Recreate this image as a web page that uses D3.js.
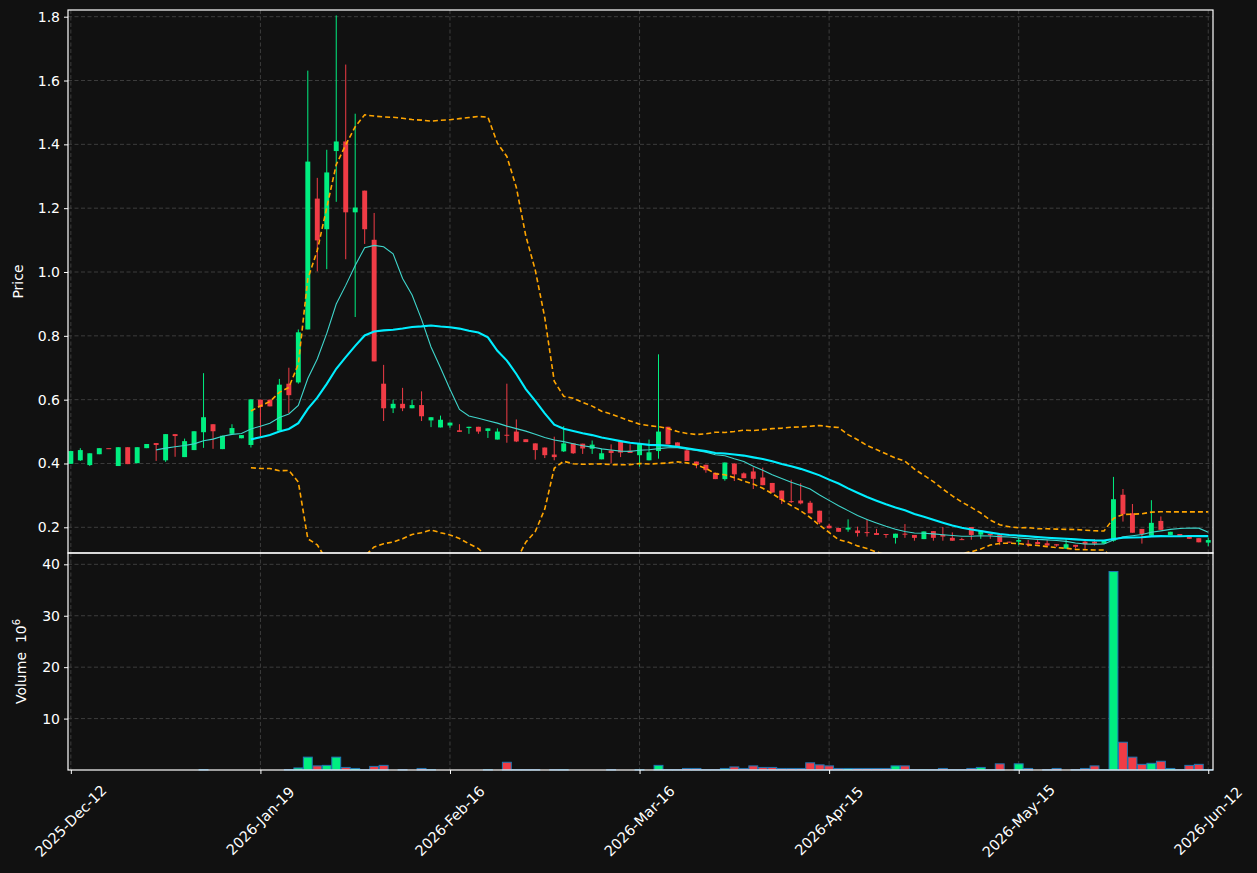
<!DOCTYPE html>
<html>
<head>
<meta charset="utf-8">
<script src="https://cdn.jsdelivr.net/npm/d3@7"></script>
<style>
  html, body { margin: 0; padding: 0; background: #111111; }
  svg { display: block; }
</style>
</head>
<body>
<div id="vis"></div>
<script>
// daily candles, index 0 .. 120
let opens = [
  0.399, 0.410, 0.395, 0.429, 0.448, 0.392, 0.451, 0.401, 0.448, 0.464,
  0.410, 0.492, 0.420, 0.442, 0.498, 0.523, 0.445, 0.493, 0.479, 0.458,
  0.600, 0.600, 0.503, 0.650, 0.654, 0.820, 1.230, 1.134, 1.379, 1.409,
  1.187, 1.255, 1.101, 0.650, 0.573, 0.587, 0.573, 0.583, 0.535, 0.513,
  0.519, 0.504, 0.511, 0.515, 0.502, 0.475, 0.490, 0.500, 0.476, 0.463,
  0.450, 0.428, 0.438, 0.463, 0.462, 0.446, 0.413, 0.441, 0.470, 0.440,
  0.426, 0.410, 0.439, 0.515, 0.466, 0.441, 0.406, 0.396, 0.371, 0.351,
  0.400, 0.369, 0.375, 0.356, 0.339, 0.315, 0.282, 0.284, 0.277, 0.252,
  0.205, 0.198, 0.193, 0.190, 0.185, 0.182, 0.179, 0.167, 0.180, 0.176,
  0.163, 0.188, 0.177, 0.167, 0.163, 0.201, 0.177, 0.179, 0.178, 0.155,
  0.155, 0.149, 0.154, 0.150, 0.147, 0.133, 0.145, 0.155, 0.155, 0.149,
  0.158, 0.302, 0.244, 0.195, 0.174, 0.220, 0.176, 0.179, 0.173, 0.166,
  0.152
]
let highs = [
  0.440, 0.448, 0.432, 0.448, 0.448, 0.451, 0.451, 0.451, 0.461, 0.464,
  0.492, 0.492, 0.478, 0.501, 0.683, 0.523, 0.487, 0.523, 0.489, 0.601,
  0.600, 0.600, 0.665, 0.700, 0.820, 1.631, 1.295, 1.383, 1.804, 1.650,
  1.496, 1.255, 1.185, 0.709, 0.600, 0.637, 0.600, 0.626, 0.545, 0.550,
  0.528, 0.523, 0.515, 0.515, 0.510, 0.510, 0.650, 0.538, 0.476, 0.463,
  0.450, 0.484, 0.517, 0.463, 0.462, 0.472, 0.446, 0.460, 0.470, 0.460,
  0.462, 0.475, 0.742, 0.515, 0.466, 0.446, 0.406, 0.396, 0.371, 0.403,
  0.400, 0.372, 0.388, 0.387, 0.339, 0.315, 0.349, 0.338, 0.283, 0.252,
  0.211, 0.198, 0.225, 0.202, 0.225, 0.195, 0.179, 0.180, 0.210, 0.176,
  0.187, 0.188, 0.201, 0.184, 0.167, 0.201, 0.190, 0.179, 0.178, 0.155,
  0.167, 0.160, 0.160, 0.160, 0.147, 0.165, 0.145, 0.160, 0.163, 0.157,
  0.358, 0.320, 0.273, 0.195, 0.285, 0.234, 0.186, 0.179, 0.173, 0.166,
  0.167
]
let lows = [
  0.399, 0.408, 0.392, 0.429, 0.447, 0.392, 0.398, 0.401, 0.448, 0.408,
  0.405, 0.421, 0.420, 0.442, 0.449, 0.446, 0.445, 0.493, 0.479, 0.450,
  0.485, 0.579, 0.503, 0.558, 0.650, 0.820, 1.002, 1.009, 1.220, 1.040,
  0.859, 1.088, 0.720, 0.533, 0.558, 0.564, 0.573, 0.533, 0.514, 0.513,
  0.512, 0.499, 0.493, 0.493, 0.480, 0.475, 0.465, 0.467, 0.467, 0.412,
  0.417, 0.410, 0.436, 0.430, 0.430, 0.430, 0.413, 0.401, 0.420, 0.433,
  0.390, 0.410, 0.415, 0.460, 0.449, 0.408, 0.385, 0.371, 0.351, 0.346,
  0.345, 0.354, 0.320, 0.332, 0.309, 0.273, 0.276, 0.272, 0.244, 0.210,
  0.196, 0.186, 0.186, 0.171, 0.171, 0.176, 0.167, 0.149, 0.167, 0.158,
  0.163, 0.158, 0.158, 0.158, 0.160, 0.161, 0.164, 0.164, 0.144, 0.152,
  0.144, 0.139, 0.147, 0.139, 0.139, 0.133, 0.134, 0.131, 0.143, 0.149,
  0.155, 0.218, 0.183, 0.149, 0.174, 0.192, 0.176, 0.173, 0.164, 0.153,
  0.141
]
let closes = [
  0.439, 0.442, 0.432, 0.448, 0.447, 0.451, 0.398, 0.451, 0.461, 0.458,
  0.492, 0.486, 0.470, 0.501, 0.545, 0.501, 0.487, 0.511, 0.489, 0.601,
  0.577, 0.579, 0.647, 0.614, 0.811, 1.346, 1.099, 1.312, 1.409, 1.187,
  1.202, 1.134, 0.720, 0.573, 0.587, 0.573, 0.583, 0.548, 0.545, 0.537,
  0.528, 0.499, 0.515, 0.500, 0.510, 0.500, 0.489, 0.469, 0.467, 0.442,
  0.426, 0.420, 0.463, 0.432, 0.447, 0.459, 0.432, 0.433, 0.434, 0.433,
  0.462, 0.435, 0.500, 0.460, 0.449, 0.408, 0.395, 0.379, 0.351, 0.403,
  0.366, 0.354, 0.352, 0.332, 0.309, 0.286, 0.280, 0.275, 0.244, 0.215,
  0.197, 0.186, 0.199, 0.182, 0.183, 0.176, 0.176, 0.180, 0.177, 0.167,
  0.187, 0.167, 0.171, 0.158, 0.162, 0.176, 0.190, 0.175, 0.154, 0.154,
  0.160, 0.145, 0.147, 0.143, 0.143, 0.147, 0.139, 0.147, 0.149, 0.157,
  0.288, 0.241, 0.183, 0.179, 0.214, 0.192, 0.186, 0.173, 0.164, 0.153,
  0.160
]
// volume in millions
let volumes = [
  0, 0, 0, 0, 0, 0, 0, 0, 0, 0,
  0, 0, 0, 0, 0.08, 0, 0, 0, 0, 0,
  0, 0, 0, 0.08, 0.4, 2.5, 0.8, 0.9, 2.5, 0.5,
  0.3, 0.06, 0.7, 0.9, 0, 0.06, 0, 0.3, 0.06, 0,
  0, 0, 0, 0, 0.06, 0, 1.5, 0.06, 0.06, 0.06,
  0, 0.06, 0.06, 0, 0, 0, 0, 0.06, 0, 0,
  0.06, 0, 0.9, 0.06, 0.06, 0.3, 0.3, 0.06, 0.06, 0.3,
  0.6, 0.3, 0.8, 0.5, 0.5, 0.3, 0.3, 0.3, 1.4, 1.0,
  0.8, 0.3, 0.3, 0.3, 0.3, 0.3, 0.3, 0.8, 0.8, 0.06,
  0.06, 0.06, 0.3, 0.06, 0.06, 0.3, 0.5, 0.06, 1.2, 0,
  1.2, 0.3, 0, 0.06, 0.3, 0, 0.06, 0.3, 0.8, 0.06,
  38.6, 5.4, 2.5, 1.1, 1.3, 1.7, 0.3, 0.06, 0.9, 1.1,
  0.06
]
let tickIdx = [0, 20, 40, 60, 80, 100, 120]
let tickLabels = ['2025-Dec-12', '2026-Jan-19', '2026-Feb-16', '2026-Mar-16', '2026-Apr-15', '2026-May-15', '2026-Jun-12']
let priceTicks = [0.2, 0.4, 0.6, 0.8, 1.0, 1.2, 1.4, 1.6, 1.8]
let volTicks = [10, 20, 30, 40]

let upColor = '#00ee80', downColor = '#f03c46'
let font = 'DejaVu Sans, sans-serif'

let W = 1257, H = 873
let pLeft = 68, pRight = 1213, pTop = 10, pMid = 553, pBottom = 770

let svg = d3.select('#vis')
  .append('svg')
  .attr('width', W)
  .attr('height', H)
  .style('background-color', '#111111')

let x = d3.scaleLinear().domain([-0.3, 120.5]).range([pLeft, pRight])
let yP = d3.scaleLinear().domain([0.1195, 1.821]).range([pMid, pTop])
let yV = d3.scaleLinear().domain([0, 42.2]).range([pBottom, pMid])
let step = x(1) - x(0)

// moving averages / bollinger from the closes
function rolling(arr, n, fn) {
  return arr.map((d, i) => i < n - 1 ? null : fn(arr.slice(i - n + 1, i + 1)))
}
let ma10 = rolling(closes, 10, d3.mean)
let ma20 = rolling(closes, 20, d3.mean)
let sd20 = rolling(closes, 20, d3.deviation)
let bbUp = ma20.map((m, i) => m == null ? null : m + 2 * sd20[i])
let bbLo = ma20.map((m, i) => m == null ? null : m - 2 * sd20[i])

let defs = svg.append('defs')
defs.append('clipPath').attr('id', 'clipP')
  .append('rect').attr('x', pLeft).attr('y', pTop).attr('width', pRight - pLeft).attr('height', pMid - pTop)

// grids
function grid(y0, y1, yScale, ticks) {
  let g = svg.append('g')
  g.selectAll('.gx').data(tickIdx).enter().append('line')
    .attr('x1', d => x(d)).attr('x2', d => x(d))
    .attr('y1', y0).attr('y2', y1)
  g.selectAll('.gy').data(ticks).enter().append('line')
    .attr('x1', pLeft).attr('x2', pRight)
    .attr('y1', d => yScale(d)).attr('y2', d => yScale(d))
  g.selectAll('line')
    .attr('stroke', '#3d3d3d')
    .attr('stroke-width', 1)
    .attr('stroke-dasharray', '4,2.5')
}
grid(pTop, pMid, yP, priceTicks)
grid(pMid, pBottom, yV, volTicks)

// candles
let candles = svg.append('g').attr('clip-path', 'url(#clipP)')
let idx = d3.range(closes.length)
let col = i => closes[i] >= opens[i] ? upColor : downColor

candles.selectAll('.wick').data(idx).enter().append('line')
  .attr('x1', i => x(i)).attr('x2', i => x(i))
  .attr('y1', i => yP(highs[i])).attr('y2', i => yP(lows[i]))
  .attr('stroke', col)
  .attr('stroke-width', 1)

candles.selectAll('.body').data(idx).enter().append('rect')
  .attr('x', i => x(i) - step * 0.26)
  .attr('width', step * 0.52)
  .attr('y', i => yP(Math.max(opens[i], closes[i])))
  .attr('height', i => Math.max(1, Math.abs(yP(opens[i]) - yP(closes[i]))))
  .attr('fill', col)

// lines
function drawLine(vals, color, width, dash) {
  let line = d3.line()
    .defined(d => d != null)
    .x((d, i) => x(i))
    .y(d => yP(d))
  candles.append('path')
    .datum(vals)
    .attr('d', line)
    .attr('fill', 'none')
    .attr('stroke', color)
    .attr('stroke-width', width)
    .attr('stroke-dasharray', dash)
}
drawLine(ma10, '#3fd6cc', 1.1, null)
drawLine(ma20, '#00eeff', 2.1, null)
drawLine(bbUp, '#ffa500', 1.6, '5,3')
drawLine(bbLo, '#ffa500', 1.6, '5,3')

// volume bars
svg.append('g').selectAll('rect')
  .data(idx.filter(i => volumes[i] > 0))
  .enter().append('rect')
  .attr('x', i => x(i) - step * 0.47)
  .attr('width', step * 0.94)
  .attr('y', i => yV(volumes[i]))
  .attr('height', i => yV(0) - yV(volumes[i]))
  .attr('fill', col)
  .attr('stroke', '#1f77b4')
  .attr('stroke-width', 1)

// frames
svg.append('rect').attr('x', pLeft).attr('y', pTop).attr('width', pRight - pLeft).attr('height', pMid - pTop)
  .attr('fill', 'none').attr('stroke', 'white').attr('stroke-width', 1.2)
svg.append('rect').attr('x', pLeft).attr('y', pMid).attr('width', pRight - pLeft).attr('height', pBottom - pMid)
  .attr('fill', 'none').attr('stroke', 'white').attr('stroke-width', 1.2)

// axes
function styleAxis(g) {
  g.select('.domain').remove()
  g.selectAll('line').attr('stroke', 'white')
  g.selectAll('text').attr('fill', 'white').style('font-family', font).style('font-size', '14px')
}
svg.append('g').attr('transform', `translate(${pLeft},0)`)
  .call(d3.axisLeft(yP).tickValues(priceTicks).tickFormat(d3.format('.1f')).tickSize(4).tickPadding(4))
  .call(styleAxis)
svg.append('g').attr('transform', `translate(${pLeft},0)`)
  .call(d3.axisLeft(yV).tickValues(volTicks).tickFormat(d3.format('d')).tickSize(4).tickPadding(4))
  .call(styleAxis)

svg.append('g').attr('transform', `translate(0,${pBottom})`)
  .call(d3.axisBottom(x).tickValues(tickIdx).tickFormat('').tickSize(4))
  .call(styleAxis)

svg.append('g').selectAll('text')
  .data(tickIdx)
  .enter().append('text')
  .attr('transform', d => `translate(${x(d)},821) rotate(-45)`)
  .attr('text-anchor', 'middle')
  .attr('dominant-baseline', 'central')
  .attr('fill', 'white')
  .style('font-family', font)
  .style('font-size', '14.5px')
  .text((d, i) => tickLabels[i])

// axis labels
svg.append('text')
  .attr('transform', `translate(23,${(pTop + pMid) / 2}) rotate(-90)`)
  .attr('text-anchor', 'middle')
  .attr('fill', 'white')
  .style('font-family', font)
  .style('font-size', '14px')
  .text('Price')

let vl = svg.append('text')
  .attr('transform', `translate(26,${(pMid + pBottom) / 2}) rotate(-90)`)
  .attr('text-anchor', 'middle')
  .attr('fill', 'white')
  .style('font-family', font)
  .style('font-size', '14px')
vl.append('tspan').text('Volume\u00a0\u00a010')
vl.append('tspan').attr('dy', -6).style('font-size', '10px').text('6')
</script>
</body>
</html>
